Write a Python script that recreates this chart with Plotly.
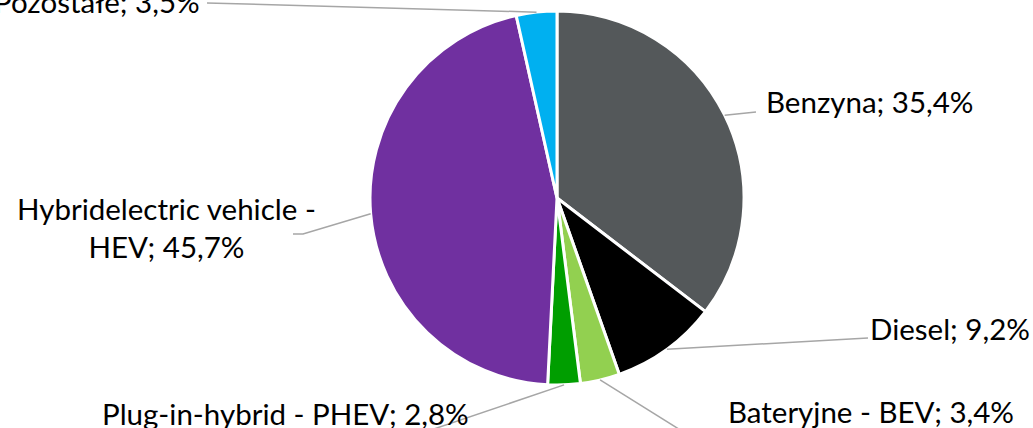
import math
import plotly.graph_objects as go

# data
categories = ["Benzyna", "Diesel", "Bateryjne - BEV", "Plug-in-hybrid - PHEV",
              "Hybridelectric vehicle - HEV", "Pozostałe"]
shares = [35.4, 9.2, 3.4, 2.8, 45.7, 3.5]
label_texts = ["Benzyna; 35,4%", "Diesel; 9,2%", "Bateryjne - BEV; 3,4%",
               "Plug-in-hybrid - PHEV; 2,8%", "Hybridelectric vehicle -<br>HEV; 45,7%",
               "Pozostałe; 3,5%"]
colors = ["#54585A", "#000000", "#92D050", "#009E00", "#7030A0", "#00B0F0"]

W, H = 1033, 428
# pie placement in pixels
cx, cy, r = 557, 198, 187

# label placement (pixels): x, y, xanchor, and the elbow/end points of leader lines
label_pos = [
    (764, 102, "left"),
    (868, 328, "left"),
    (726, 411, "left"),
    (471, 413, "right"),
    (166, 228, "center"),
    (202, 1, "right"),
]
leader_ends = [
    [(756, 112)],
    [(868, 338)],
    [(690, 436)],
    [(425, 432)],
    [(303, 234), (293, 234)],
    [(207, 3)],
]


def px(x):
    return x / W


def py(y):
    return 1 - y / H


fig = go.Figure()
fig.add_trace(go.Pie(
    labels=categories, values=shares, sort=False, direction="clockwise",
    rotation=0, textinfo="none", hoverinfo="label+percent",
    marker=dict(colors=colors, line=dict(color="white", width=3)),
    domain=dict(x=[px(cx - r), px(cx + r)], y=[py(cy + r), py(cy - r)]),
    showlegend=False,
))

# leader lines from the middle of each slice's outer edge
total = sum(shares)
cum = 0
shapes = []
for i, v in enumerate(shares):
    mid = (cum + v / 2) / total * 2 * math.pi
    cum += v
    sx = cx + r * math.sin(mid)
    sy = cy - r * math.cos(mid)
    pts = [(sx, sy)] + leader_ends[i]
    path = "M " + " L ".join(f"{px(a)},{py(b)}" for a, b in pts)
    shapes.append(dict(type="path", xref="paper", yref="paper", path=path,
                       line=dict(color="#A6A6A6", width=1.5)))

annotations = []
for (x, y, anchor), txt in zip(label_pos, label_texts):
    annotations.append(dict(
        x=px(x), y=py(y), xref="paper", yref="paper", text=txt,
        showarrow=False, xanchor=anchor, yanchor="middle", align="center",
        font=dict(family="Lato", size=29.5, color="#000000"),
    ))

fig.update_layout(
    width=W, height=H,
    margin=dict(l=0, r=0, t=0, b=0),
    paper_bgcolor="white", plot_bgcolor="white",
    shapes=shapes, annotations=annotations,
)

fig.write_html("out.html", config={"displayModeBar": False},
               post_script="document.body.style.margin='0';document.body.style.overflow='hidden';")
